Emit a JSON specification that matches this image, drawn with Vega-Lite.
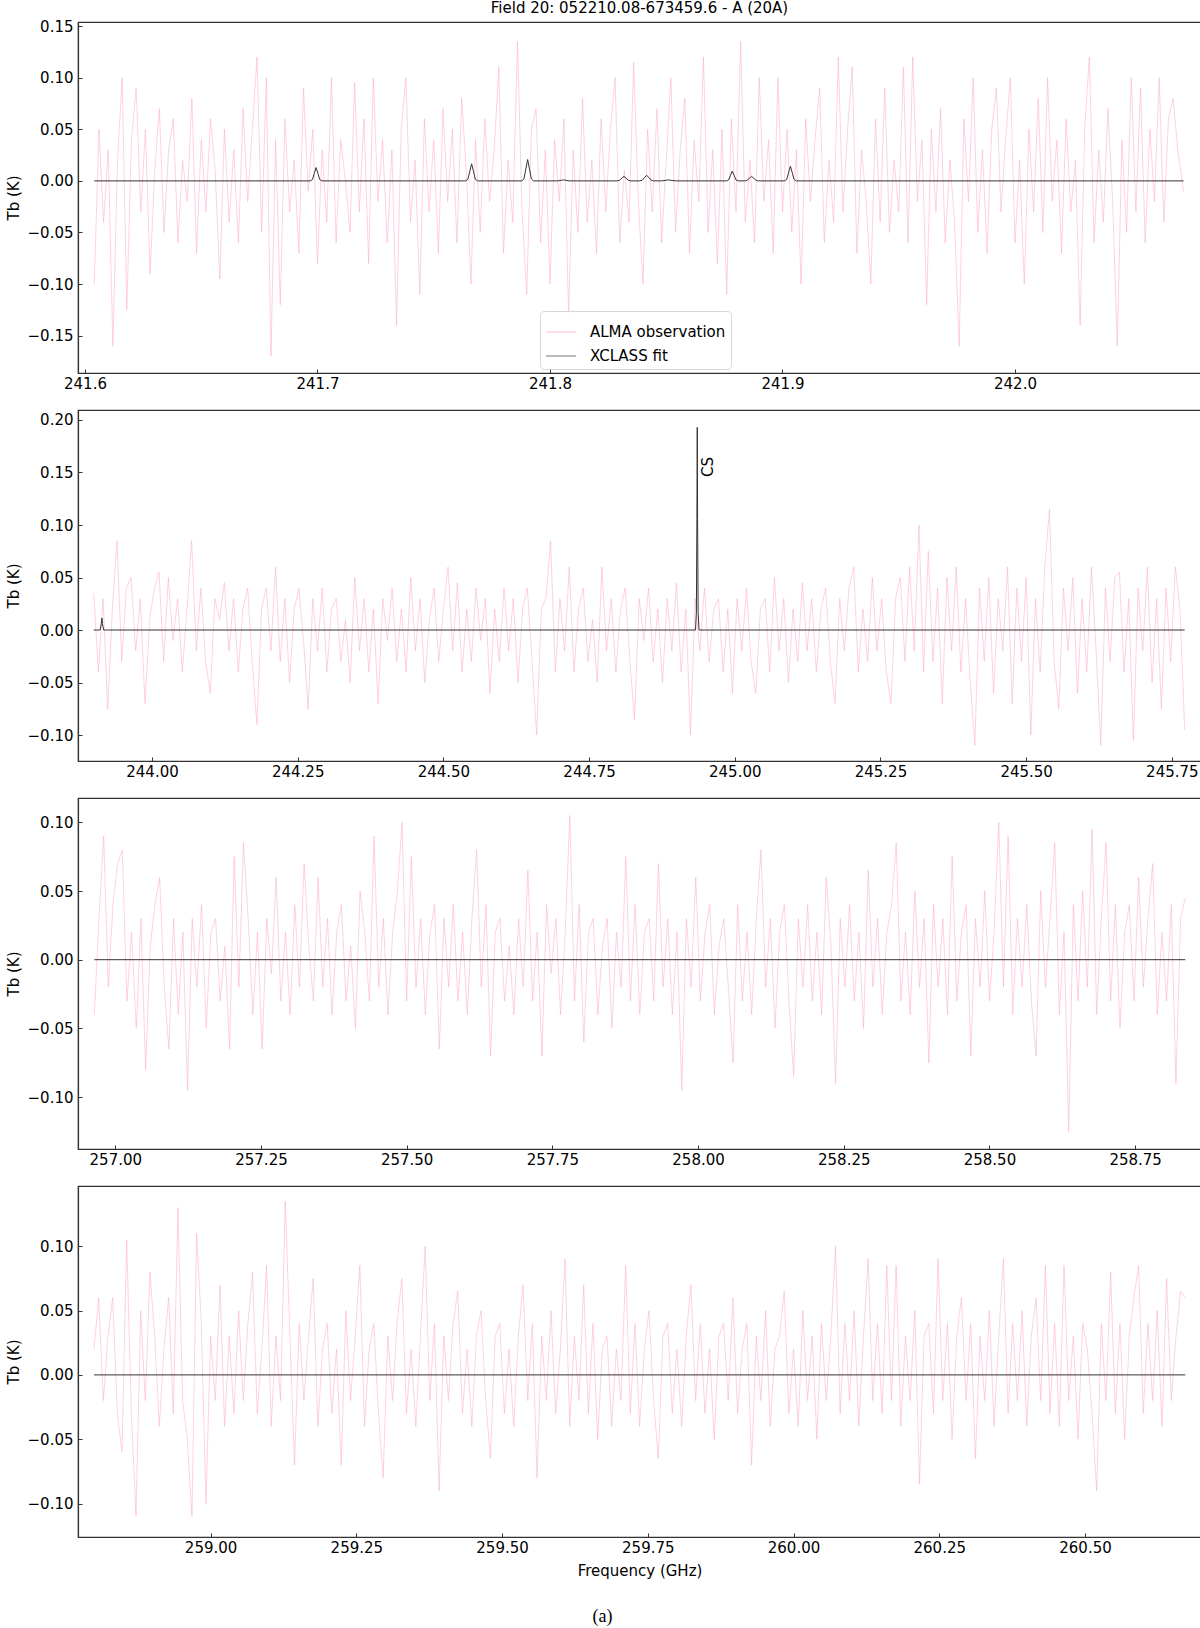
{
"$schema":"https://vega.github.io/schema/vega-lite/v6.json",
"autosize":{"type":"pad"},
"padding":{"left":5,"top":0,"right":0,"bottom":0},
"bounds":"flush",
"spacing":37,
"config":{
"font":"DejaVu Sans",
"view":{"stroke":"#333333","strokeWidth":1.2},
"axis":{"grid":false,"labelFont":"DejaVu Sans","labelFontSize":15,"labelColor":"#000000","titleFont":"DejaVu Sans","titleFontSize":15,"titleFontWeight":"normal","titleColor":"#000000","domainColor":"#333333","domainWidth":1.2,"tickColor":"#333333","tickWidth":1,"tickSize":-4,"labelFlush":false,"labelOverlap":false},
"axisX":{"labelPadding":7,"titlePadding":8},
"axisY":{"labelPadding":9,"titlePadding":6},
"legend":{"labelFont":"DejaVu Sans","labelFontSize":15,"labelColor":"#000000","symbolType":"stroke","symbolSize":900,"symbolStrokeWidth":1.2,"padding":5,"rowPadding":0,"labelOffset":13,"fillColor":"rgba(255,255,255,0.85)","strokeColor":"#d6d6d6","cornerRadius":4},
"title":{"font":"DejaVu Sans","fontSize":15,"fontWeight":"normal","color":"#000000"}
},
"datasets":{
"o1":[
{"f":241.604,"t":-0.1},{"f":241.606,"t":0.05},{"f":241.608,"t":-0.04},{"f":241.61,"t":0.03},{"f":241.612,"t":-0.16},{"f":241.614,"t":0.02},{"f":241.616,"t":0.1},{"f":241.618,"t":-0.125},{"f":241.62,"t":0.04},{"f":241.622,"t":0.09},
{"f":241.624,"t":-0.03},{"f":241.626,"t":0.05},{"f":241.628,"t":-0.09},{"f":241.63,"t":0.01},{"f":241.632,"t":0.07},{"f":241.634,"t":-0.05},{"f":241.636,"t":0.03},{"f":241.638,"t":0.06},{"f":241.64,"t":-0.06},{"f":241.642,"t":0.02},
{"f":241.644,"t":-0.02},{"f":241.646,"t":0.08},{"f":241.648,"t":-0.07},{"f":241.65,"t":0.04},{"f":241.652,"t":-0.03},{"f":241.654,"t":0.06},{"f":241.656,"t":0.01},{"f":241.658,"t":-0.095},{"f":241.66,"t":0.05},{"f":241.662,"t":-0.04},
{"f":241.664,"t":0.03},{"f":241.666,"t":-0.06},{"f":241.668,"t":0.07},{"f":241.67,"t":-0.02},{"f":241.672,"t":0.05},{"f":241.674,"t":0.12},{"f":241.676,"t":-0.05},{"f":241.678,"t":0.1},{"f":241.68,"t":-0.17},{"f":241.682,"t":0.04},
{"f":241.684,"t":-0.12},{"f":241.686,"t":0.06},{"f":241.688,"t":-0.03},{"f":241.69,"t":0.02},{"f":241.692,"t":-0.07},{"f":241.694,"t":0.09},{"f":241.696,"t":-0.01},{"f":241.698,"t":0.05},{"f":241.7,"t":-0.08},{"f":241.702,"t":0.03},
{"f":241.704,"t":-0.04},{"f":241.706,"t":0.1},{"f":241.708,"t":-0.06},{"f":241.71,"t":0.04},{"f":241.712,"t":0},{"f":241.714,"t":-0.05},{"f":241.716,"t":0.095},{"f":241.718,"t":-0.03},{"f":241.72,"t":0.06},{"f":241.722,"t":-0.08},
{"f":241.724,"t":0.1},{"f":241.726,"t":-0.02},{"f":241.728,"t":0.04},{"f":241.73,"t":-0.06},{"f":241.732,"t":0.03},{"f":241.734,"t":-0.14},{"f":241.736,"t":0.05},{"f":241.738,"t":0.1},{"f":241.74,"t":-0.04},{"f":241.742,"t":0.02},
{"f":241.744,"t":-0.11},{"f":241.746,"t":0.06},{"f":241.748,"t":-0.03},{"f":241.75,"t":0.04},{"f":241.752,"t":-0.07},{"f":241.754,"t":0.07},{"f":241.756,"t":-0.02},{"f":241.758,"t":0.05},{"f":241.76,"t":-0.06},{"f":241.762,"t":0.08},
{"f":241.764,"t":0.01},{"f":241.766,"t":-0.1},{"f":241.768,"t":0.04},{"f":241.77,"t":-0.05},{"f":241.772,"t":0.06},{"f":241.774,"t":-0.02},{"f":241.776,"t":0.03},{"f":241.778,"t":0.11},{"f":241.78,"t":-0.07},{"f":241.782,"t":0.02},
{"f":241.784,"t":-0.04},{"f":241.786,"t":0.135},{"f":241.788,"t":-0.03},{"f":241.79,"t":-0.11},{"f":241.792,"t":0.05},{"f":241.794,"t":0.07},{"f":241.796,"t":-0.06},{"f":241.798,"t":0.03},{"f":241.8,"t":-0.1},{"f":241.802,"t":0.04},
{"f":241.804,"t":-0.02},{"f":241.806,"t":0.06},{"f":241.808,"t":-0.13},{"f":241.81,"t":0.03},{"f":241.812,"t":-0.05},{"f":241.814,"t":0.08},{"f":241.816,"t":-0.04},{"f":241.818,"t":0.02},{"f":241.82,"t":-0.07},{"f":241.822,"t":0.06},
{"f":241.824,"t":-0.03},{"f":241.826,"t":0.05},{"f":241.828,"t":0.1},{"f":241.83,"t":-0.06},{"f":241.832,"t":0.01},{"f":241.834,"t":-0.04},{"f":241.836,"t":0.115},{"f":241.838,"t":-0.02},{"f":241.84,"t":-0.1},{"f":241.842,"t":0.05},
{"f":241.844,"t":-0.03},{"f":241.846,"t":0.07},{"f":241.848,"t":-0.06},{"f":241.85,"t":0.02},{"f":241.852,"t":0.1},{"f":241.854,"t":-0.05},{"f":241.856,"t":0.03},{"f":241.858,"t":0.08},{"f":241.86,"t":-0.07},{"f":241.862,"t":0.04},
{"f":241.864,"t":-0.02},{"f":241.866,"t":0.12},{"f":241.868,"t":-0.05},{"f":241.87,"t":0.03},{"f":241.872,"t":-0.08},{"f":241.874,"t":0.05},{"f":241.876,"t":-0.11},{"f":241.878,"t":0.06},{"f":241.88,"t":-0.03},{"f":241.882,"t":0.135},
{"f":241.884,"t":-0.04},{"f":241.886,"t":0.02},{"f":241.888,"t":-0.06},{"f":241.89,"t":0.1},{"f":241.892,"t":-0.02},{"f":241.894,"t":0.04},{"f":241.896,"t":-0.07},{"f":241.898,"t":0.1},{"f":241.9,"t":-0.03},{"f":241.902,"t":0.05},
{"f":241.904,"t":-0.05},{"f":241.906,"t":0.03},{"f":241.908,"t":-0.1},{"f":241.91,"t":0.06},{"f":241.912,"t":-0.02},{"f":241.914,"t":0.04},{"f":241.916,"t":0.09},{"f":241.918,"t":-0.06},{"f":241.92,"t":0.02},{"f":241.922,"t":-0.04},
{"f":241.924,"t":0.12},{"f":241.926,"t":-0.03},{"f":241.928,"t":0.05},{"f":241.93,"t":0.11},{"f":241.932,"t":-0.07},{"f":241.934,"t":0.03},{"f":241.936,"t":-0.02},{"f":241.938,"t":-0.1},{"f":241.94,"t":0.06},{"f":241.942,"t":-0.04},
{"f":241.944,"t":0.09},{"f":241.946,"t":-0.05},{"f":241.948,"t":0.02},{"f":241.95,"t":-0.03},{"f":241.952,"t":0.11},{"f":241.954,"t":-0.06},{"f":241.956,"t":0.12},{"f":241.958,"t":-0.02},{"f":241.96,"t":0.04},{"f":241.962,"t":-0.12},
{"f":241.964,"t":0.05},{"f":241.966,"t":-0.03},{"f":241.968,"t":0.07},{"f":241.97,"t":-0.06},{"f":241.972,"t":0.02},{"f":241.974,"t":-0.04},{"f":241.976,"t":-0.16},{"f":241.978,"t":0.06},{"f":241.98,"t":-0.02},{"f":241.982,"t":0.1},
{"f":241.984,"t":-0.05},{"f":241.986,"t":0.03},{"f":241.988,"t":-0.07},{"f":241.99,"t":0.05},{"f":241.992,"t":0.09},{"f":241.994,"t":-0.03},{"f":241.996,"t":0.04},{"f":241.998,"t":0.1},{"f":242,"t":-0.06},{"f":242.002,"t":0.02},
{"f":242.004,"t":-0.1},{"f":242.006,"t":0.05},{"f":242.008,"t":-0.03},{"f":242.01,"t":0.08},{"f":242.012,"t":-0.05},{"f":242.014,"t":0.1},{"f":242.016,"t":-0.02},{"f":242.018,"t":0.04},{"f":242.02,"t":-0.07},{"f":242.022,"t":0.06},
{"f":242.024,"t":-0.03},{"f":242.026,"t":0.02},{"f":242.028,"t":-0.14},{"f":242.03,"t":0.05},{"f":242.032,"t":0.12},{"f":242.034,"t":-0.06},{"f":242.036,"t":0.03},{"f":242.038,"t":-0.04},{"f":242.04,"t":0.07},{"f":242.042,"t":-0.02},
{"f":242.044,"t":-0.16},{"f":242.046,"t":0.04},{"f":242.048,"t":-0.05},{"f":242.05,"t":0.1},{"f":242.052,"t":-0.03},{"f":242.054,"t":0.09},{"f":242.056,"t":-0.06},{"f":242.058,"t":0.05},{"f":242.06,"t":-0.02},{"f":242.062,"t":0.1},
{"f":242.064,"t":-0.04},{"f":242.066,"t":0.06},{"f":242.068,"t":0.08},{"f":242.07,"t":0.03},{"f":242.0725,"t":-0.01}
],
"fit1":[
{"f":241.604,"t":0},
{"f":241.6969,"t":0},{"f":241.6978,"t":0.0012},{"f":241.6986,"t":0.0071},{"f":241.6994,"t":0.0129},{"f":241.7002,"t":0.0071},{"f":241.701,"t":0.0012},{"f":241.7019,"t":0},
{"f":241.7638,"t":0},{"f":241.7647,"t":0.0015},{"f":241.7655,"t":0.0091},{"f":241.7663,"t":0.0166},{"f":241.7671,"t":0.0091},{"f":241.7679,"t":0.0015},{"f":241.7688,"t":0},
{"f":241.7879,"t":0},{"f":241.7888,"t":0.0019},{"f":241.7896,"t":0.0114},{"f":241.7904,"t":0.0207},{"f":241.7912,"t":0.0114},{"f":241.792,"t":0.0019},{"f":241.7929,"t":0},
{"f":241.8033,"t":0},{"f":241.805,"t":0.0006},{"f":241.8058,"t":0.001},{"f":241.8066,"t":0.0006},{"f":241.8083,"t":0},
{"f":241.8288,"t":0},{"f":241.8298,"t":0.0004},{"f":241.8308,"t":0.0024},{"f":241.8318,"t":0.0044},{"f":241.8328,"t":0.0024},{"f":241.8338,"t":0.0004},{"f":241.8348,"t":0},
{"f":241.8386,"t":0},{"f":241.8396,"t":0.0005},{"f":241.8406,"t":0.003},{"f":241.8416,"t":0.0054},{"f":241.8426,"t":0.003},{"f":241.8436,"t":0.0005},{"f":241.8446,"t":0},
{"f":241.848,"t":0},{"f":241.85,"t":0.0006},{"f":241.851,"t":0.001},{"f":241.852,"t":0.0006},{"f":241.854,"t":0},
{"f":241.8759,"t":0},{"f":241.8768,"t":0.0009},{"f":241.8776,"t":0.0052},{"f":241.8784,"t":0.0095},{"f":241.8792,"t":0.0052},{"f":241.88,"t":0.0009},{"f":241.8809,"t":0},
{"f":241.8837,"t":0},{"f":241.8847,"t":0.0004},{"f":241.8857,"t":0.0024},{"f":241.8867,"t":0.0044},{"f":241.8877,"t":0.0024},{"f":241.8887,"t":0.0004},{"f":241.8897,"t":0},
{"f":241.9009,"t":0},{"f":241.9018,"t":0.0013},{"f":241.9026,"t":0.0078},{"f":241.9034,"t":0.0142},{"f":241.9042,"t":0.0078},{"f":241.905,"t":0.0013},{"f":241.9059,"t":0},
{"f":242.0725,"t":0}
],
"o2":[
{"f":243.9,"t":0.035},{"f":243.908,"t":-0.04},{"f":243.916,"t":0.03},{"f":243.924,"t":-0.075},{"f":243.932,"t":0.02},{"f":243.94,"t":0.085},{"f":243.948,"t":-0.03},{"f":243.956,"t":0.04},{"f":243.964,"t":0.05},{"f":243.972,"t":-0.02},
{"f":243.98,"t":0.03},{"f":243.988,"t":-0.07},{"f":243.996,"t":0.01},{"f":244.004,"t":0.04},{"f":244.012,"t":0.055},{"f":244.02,"t":-0.03},{"f":244.028,"t":0.05},{"f":244.036,"t":-0.01},{"f":244.044,"t":0.03},{"f":244.052,"t":-0.04},
{"f":244.06,"t":0.02},{"f":244.068,"t":0.085},{"f":244.076,"t":-0.02},{"f":244.084,"t":0.04},{"f":244.092,"t":-0.03},{"f":244.1,"t":-0.06},{"f":244.108,"t":0.03},{"f":244.116,"t":0.01},{"f":244.124,"t":0.045},{"f":244.132,"t":-0.02},
{"f":244.14,"t":0.03},{"f":244.148,"t":-0.04},{"f":244.156,"t":0.02},{"f":244.164,"t":0.04},{"f":244.172,"t":-0.03},{"f":244.18,"t":-0.09},{"f":244.188,"t":0.02},{"f":244.196,"t":0.04},{"f":244.204,"t":-0.02},{"f":244.212,"t":0.06},
{"f":244.22,"t":-0.03},{"f":244.228,"t":0.03},{"f":244.236,"t":-0.05},{"f":244.244,"t":0.02},{"f":244.252,"t":0.04},{"f":244.26,"t":-0.01},{"f":244.268,"t":-0.075},{"f":244.276,"t":0.03},{"f":244.284,"t":-0.02},{"f":244.292,"t":0.04},
{"f":244.3,"t":-0.04},{"f":244.308,"t":0.02},{"f":244.316,"t":0.03},{"f":244.324,"t":-0.03},{"f":244.332,"t":0.01},{"f":244.34,"t":-0.05},{"f":244.348,"t":0.05},{"f":244.356,"t":-0.02},{"f":244.364,"t":0.03},{"f":244.372,"t":-0.04},
{"f":244.38,"t":0.02},{"f":244.388,"t":-0.07},{"f":244.396,"t":0.03},{"f":244.404,"t":-0.01},{"f":244.412,"t":0.04},{"f":244.42,"t":-0.03},{"f":244.428,"t":0.02},{"f":244.436,"t":-0.04},{"f":244.444,"t":0.05},{"f":244.452,"t":-0.02},
{"f":244.46,"t":0.03},{"f":244.468,"t":-0.05},{"f":244.476,"t":0.01},{"f":244.484,"t":0.04},{"f":244.492,"t":-0.03},{"f":244.5,"t":0.02},{"f":244.508,"t":0.06},{"f":244.516,"t":-0.02},{"f":244.524,"t":0.045},{"f":244.532,"t":-0.04},
{"f":244.54,"t":0.02},{"f":244.548,"t":-0.03},{"f":244.556,"t":0.04},{"f":244.564,"t":-0.01},{"f":244.572,"t":0.03},{"f":244.58,"t":-0.06},{"f":244.588,"t":0.02},{"f":244.596,"t":-0.03},{"f":244.604,"t":0.04},{"f":244.612,"t":-0.02},
{"f":244.62,"t":0.03},{"f":244.628,"t":-0.05},{"f":244.636,"t":0.02},{"f":244.644,"t":0.04},{"f":244.652,"t":-0.03},{"f":244.66,"t":-0.1},{"f":244.668,"t":0.02},{"f":244.676,"t":0.03},{"f":244.684,"t":0.085},{"f":244.692,"t":-0.04},
{"f":244.7,"t":0.03},{"f":244.708,"t":-0.02},{"f":244.716,"t":0.06},{"f":244.724,"t":-0.04},{"f":244.732,"t":0.02},{"f":244.74,"t":0.04},{"f":244.748,"t":-0.03},{"f":244.756,"t":0.01},{"f":244.764,"t":-0.05},{"f":244.772,"t":0.06},
{"f":244.78,"t":-0.02},{"f":244.788,"t":0.03},{"f":244.796,"t":-0.04},{"f":244.804,"t":0.02},{"f":244.812,"t":0.04},{"f":244.82,"t":-0.03},{"f":244.828,"t":-0.085},{"f":244.836,"t":0.03},{"f":244.844,"t":-0.01},{"f":244.852,"t":0.04},
{"f":244.86,"t":-0.03},{"f":244.868,"t":0.02},{"f":244.876,"t":-0.05},{"f":244.884,"t":0.03},{"f":244.892,"t":-0.02},{"f":244.9,"t":0.045},{"f":244.908,"t":-0.04},{"f":244.916,"t":0.02},{"f":244.924,"t":-0.1},{"f":244.932,"t":0.03},
{"f":244.94,"t":-0.02},{"f":244.948,"t":0.04},{"f":244.956,"t":-0.03},{"f":244.964,"t":0.02},{"f":244.972,"t":0.03},{"f":244.98,"t":-0.04},{"f":244.988,"t":0.02},{"f":244.996,"t":-0.06},{"f":245.004,"t":0.03},{"f":245.012,"t":-0.02},
{"f":245.02,"t":0.04},{"f":245.028,"t":-0.03},{"f":245.036,"t":-0.06},{"f":245.044,"t":0.02},{"f":245.052,"t":0.03},{"f":245.06,"t":-0.04},{"f":245.068,"t":0.05},{"f":245.076,"t":-0.02},{"f":245.084,"t":0.03},{"f":245.092,"t":-0.05},
{"f":245.1,"t":0.02},{"f":245.108,"t":-0.03},{"f":245.116,"t":0.045},{"f":245.124,"t":-0.02},{"f":245.132,"t":0.03},{"f":245.14,"t":-0.04},{"f":245.148,"t":0.02},{"f":245.156,"t":0.04},{"f":245.164,"t":-0.03},{"f":245.172,"t":-0.07},
{"f":245.18,"t":0.03},{"f":245.188,"t":-0.02},{"f":245.196,"t":0.04},{"f":245.204,"t":0.06},{"f":245.212,"t":-0.04},{"f":245.22,"t":0.02},{"f":245.228,"t":-0.03},{"f":245.236,"t":0.05},{"f":245.244,"t":-0.02},{"f":245.252,"t":0.03},
{"f":245.26,"t":-0.04},{"f":245.268,"t":-0.07},{"f":245.276,"t":0.03},{"f":245.284,"t":0.05},{"f":245.292,"t":-0.03},{"f":245.3,"t":0.06},{"f":245.308,"t":-0.02},{"f":245.316,"t":0.1},{"f":245.324,"t":-0.04},{"f":245.332,"t":0.075},
{"f":245.34,"t":-0.03},{"f":245.348,"t":0.04},{"f":245.356,"t":-0.07},{"f":245.364,"t":0.05},{"f":245.372,"t":-0.02},{"f":245.38,"t":0.06},{"f":245.388,"t":-0.04},{"f":245.396,"t":0.03},{"f":245.404,"t":-0.05},{"f":245.412,"t":-0.11},
{"f":245.42,"t":0.04},{"f":245.428,"t":-0.03},{"f":245.436,"t":0.05},{"f":245.444,"t":-0.06},{"f":245.452,"t":0.03},{"f":245.46,"t":-0.02},{"f":245.468,"t":0.06},{"f":245.476,"t":-0.07},{"f":245.484,"t":0.04},{"f":245.492,"t":-0.03},
{"f":245.5,"t":0.05},{"f":245.508,"t":-0.1},{"f":245.516,"t":0.03},{"f":245.524,"t":-0.04},{"f":245.532,"t":0.06},{"f":245.54,"t":0.115},{"f":245.548,"t":-0.03},{"f":245.556,"t":-0.075},{"f":245.564,"t":0.04},{"f":245.572,"t":-0.02},
{"f":245.58,"t":0.05},{"f":245.588,"t":-0.06},{"f":245.596,"t":0.03},{"f":245.604,"t":-0.04},{"f":245.612,"t":0.06},{"f":245.62,"t":-0.02},{"f":245.628,"t":-0.11},{"f":245.636,"t":0.04},{"f":245.644,"t":-0.03},{"f":245.652,"t":0.05},
{"f":245.66,"t":0.055},{"f":245.668,"t":-0.04},{"f":245.676,"t":0.03},{"f":245.684,"t":-0.105},{"f":245.692,"t":0.04},{"f":245.7,"t":-0.02},{"f":245.708,"t":0.06},{"f":245.716,"t":-0.05},{"f":245.724,"t":0.03},{"f":245.732,"t":-0.075},
{"f":245.74,"t":0.04},{"f":245.748,"t":-0.03},{"f":245.756,"t":0.06},{"f":245.764,"t":0.02},{"f":245.772,"t":-0.095}
],
"fit2":[
{"f":243.9,"t":0},
{"f":243.911,"t":0},{"f":243.913,"t":0.006},{"f":243.914,"t":0.0115},{"f":243.915,"t":0.006},{"f":243.917,"t":0},
{"f":244.9326,"t":0},{"f":244.9341,"t":0.017},{"f":244.935,"t":0.105},{"f":244.9356,"t":0.193},{"f":244.9362,"t":0.105},{"f":244.9371,"t":0.017},{"f":244.9386,"t":0},
{"f":245.772,"t":0}
],
"cs":[{"f":244.954,"t":0.1553,"l":"CS"}],
"o3":[
{"f":256.964,"t":-0.04},{"f":256.972,"t":0.03},{"f":256.98,"t":0.09},{"f":256.988,"t":-0.02},{"f":256.996,"t":0.04},{"f":257.004,"t":0.07},{"f":257.012,"t":0.08},{"f":257.02,"t":-0.03},{"f":257.028,"t":0.02},{"f":257.036,"t":-0.05},
{"f":257.044,"t":0.03},{"f":257.052,"t":-0.08},{"f":257.06,"t":0.01},{"f":257.068,"t":0.04},{"f":257.076,"t":0.06},{"f":257.084,"t":-0.02},{"f":257.092,"t":-0.065},{"f":257.1,"t":0.03},{"f":257.108,"t":-0.04},{"f":257.116,"t":0.02},
{"f":257.124,"t":-0.095},{"f":257.132,"t":0.03},{"f":257.14,"t":-0.02},{"f":257.148,"t":0.04},{"f":257.156,"t":-0.05},{"f":257.164,"t":0.02},{"f":257.172,"t":0.03},{"f":257.18,"t":-0.03},{"f":257.188,"t":0.01},{"f":257.196,"t":-0.065},
{"f":257.204,"t":0.075},{"f":257.212,"t":-0.02},{"f":257.22,"t":0.085},{"f":257.228,"t":0.03},{"f":257.236,"t":-0.04},{"f":257.244,"t":0.02},{"f":257.252,"t":-0.065},{"f":257.26,"t":0.03},{"f":257.268,"t":-0.01},{"f":257.276,"t":0.06},
{"f":257.284,"t":-0.03},{"f":257.292,"t":0.02},{"f":257.3,"t":-0.04},{"f":257.308,"t":0.04},{"f":257.316,"t":-0.02},{"f":257.324,"t":0.07},{"f":257.332,"t":0.01},{"f":257.34,"t":-0.03},{"f":257.348,"t":0.06},{"f":257.356,"t":-0.02},
{"f":257.364,"t":0.03},{"f":257.372,"t":-0.04},{"f":257.38,"t":0.02},{"f":257.388,"t":0.04},{"f":257.396,"t":-0.03},{"f":257.404,"t":0.01},{"f":257.412,"t":-0.05},{"f":257.42,"t":0.05},{"f":257.428,"t":0.02},{"f":257.436,"t":-0.03},
{"f":257.444,"t":0.09},{"f":257.452,"t":-0.02},{"f":257.46,"t":0.03},{"f":257.468,"t":-0.04},{"f":257.476,"t":0.02},{"f":257.484,"t":0.05},{"f":257.492,"t":0.1},{"f":257.5,"t":-0.03},{"f":257.508,"t":0.075},{"f":257.516,"t":-0.02},
{"f":257.524,"t":0.03},{"f":257.532,"t":-0.04},{"f":257.54,"t":0.02},{"f":257.548,"t":0.04},{"f":257.556,"t":-0.065},{"f":257.564,"t":0.03},{"f":257.572,"t":-0.02},{"f":257.58,"t":0.04},{"f":257.588,"t":-0.03},{"f":257.596,"t":0.02},
{"f":257.604,"t":-0.04},{"f":257.612,"t":0.03},{"f":257.62,"t":0.08},{"f":257.628,"t":-0.02},{"f":257.636,"t":0.04},{"f":257.644,"t":-0.07},{"f":257.652,"t":0.02},{"f":257.66,"t":0.03},{"f":257.668,"t":-0.03},{"f":257.676,"t":0.01},
{"f":257.684,"t":-0.04},{"f":257.692,"t":0.03},{"f":257.7,"t":-0.02},{"f":257.708,"t":0.065},{"f":257.716,"t":-0.03},{"f":257.724,"t":0.02},{"f":257.732,"t":-0.07},{"f":257.74,"t":0.04},{"f":257.748,"t":-0.01},{"f":257.756,"t":0.03},
{"f":257.764,"t":-0.04},{"f":257.772,"t":0.02},{"f":257.78,"t":0.105},{"f":257.788,"t":-0.03},{"f":257.796,"t":0.04},{"f":257.804,"t":-0.06},{"f":257.812,"t":0.02},{"f":257.82,"t":0.03},{"f":257.828,"t":-0.04},{"f":257.836,"t":0.01},
{"f":257.844,"t":0.03},{"f":257.852,"t":-0.05},{"f":257.86,"t":0.02},{"f":257.868,"t":-0.02},{"f":257.876,"t":0.075},{"f":257.884,"t":-0.03},{"f":257.892,"t":0.04},{"f":257.9,"t":-0.04},{"f":257.908,"t":0.02},{"f":257.916,"t":0.03},
{"f":257.924,"t":-0.03},{"f":257.932,"t":0.07},{"f":257.94,"t":-0.02},{"f":257.948,"t":0.03},{"f":257.956,"t":-0.04},{"f":257.964,"t":0.02},{"f":257.972,"t":-0.095},{"f":257.98,"t":0.03},{"f":257.988,"t":-0.02},{"f":257.996,"t":0.06},
{"f":258.004,"t":-0.03},{"f":258.012,"t":0.02},{"f":258.02,"t":0.04},{"f":258.028,"t":-0.04},{"f":258.036,"t":0.01},{"f":258.044,"t":0.03},{"f":258.052,"t":-0.02},{"f":258.06,"t":-0.075},{"f":258.068,"t":0.04},{"f":258.076,"t":-0.03},
{"f":258.084,"t":0.02},{"f":258.092,"t":-0.04},{"f":258.1,"t":0.03},{"f":258.108,"t":0.08},{"f":258.116,"t":-0.02},{"f":258.124,"t":0.03},{"f":258.132,"t":-0.05},{"f":258.14,"t":0.02},{"f":258.148,"t":0.04},{"f":258.156,"t":-0.03},
{"f":258.164,"t":-0.085},{"f":258.172,"t":0.03},{"f":258.18,"t":-0.02},{"f":258.188,"t":0.04},{"f":258.196,"t":-0.03},{"f":258.204,"t":0.02},{"f":258.212,"t":-0.04},{"f":258.22,"t":0.06},{"f":258.228,"t":0.01},{"f":258.236,"t":-0.09},
{"f":258.244,"t":0.03},{"f":258.252,"t":-0.02},{"f":258.26,"t":0.04},{"f":258.268,"t":-0.03},{"f":258.276,"t":0.02},{"f":258.284,"t":-0.05},{"f":258.292,"t":0.065},{"f":258.3,"t":-0.02},{"f":258.308,"t":0.03},{"f":258.316,"t":-0.04},
{"f":258.324,"t":0.02},{"f":258.332,"t":0.04},{"f":258.34,"t":0.085},{"f":258.348,"t":-0.03},{"f":258.356,"t":0.02},{"f":258.364,"t":-0.04},{"f":258.372,"t":0.05},{"f":258.38,"t":-0.02},{"f":258.388,"t":0.03},{"f":258.396,"t":-0.075},
{"f":258.404,"t":0.04},{"f":258.412,"t":-0.02},{"f":258.42,"t":0.03},{"f":258.428,"t":-0.04},{"f":258.436,"t":0.075},{"f":258.444,"t":-0.03},{"f":258.452,"t":0.02},{"f":258.46,"t":0.04},{"f":258.468,"t":-0.07},{"f":258.476,"t":0.03},
{"f":258.484,"t":-0.02},{"f":258.492,"t":0.05},{"f":258.5,"t":-0.03},{"f":258.508,"t":0.02},{"f":258.516,"t":0.1},{"f":258.524,"t":-0.02},{"f":258.532,"t":0.09},{"f":258.54,"t":-0.04},{"f":258.548,"t":0.03},{"f":258.556,"t":-0.02},
{"f":258.564,"t":0.04},{"f":258.572,"t":-0.03},{"f":258.58,"t":-0.07},{"f":258.588,"t":0.05},{"f":258.596,"t":-0.02},{"f":258.604,"t":0.03},{"f":258.612,"t":0.085},{"f":258.62,"t":-0.04},{"f":258.628,"t":0.02},{"f":258.636,"t":-0.125},
{"f":258.644,"t":0.04},{"f":258.652,"t":-0.03},{"f":258.66,"t":0.05},{"f":258.668,"t":-0.02},{"f":258.676,"t":0.095},{"f":258.684,"t":-0.04},{"f":258.692,"t":0.03},{"f":258.7,"t":0.085},{"f":258.708,"t":-0.03},{"f":258.716,"t":0.04},
{"f":258.724,"t":-0.05},{"f":258.732,"t":0.02},{"f":258.74,"t":0.04},{"f":258.748,"t":-0.03},{"f":258.756,"t":0.06},{"f":258.764,"t":-0.02},{"f":258.772,"t":0.03},{"f":258.78,"t":0.07},{"f":258.788,"t":-0.04},{"f":258.796,"t":0.02},
{"f":258.804,"t":-0.03},{"f":258.812,"t":0.04},{"f":258.82,"t":-0.09},{"f":258.828,"t":0.03},{"f":258.836,"t":0.045}
],
"fit3":[{"f":256.964,"t":0},{"f":258.836,"t":0}],
"o4":[
{"f":258.8,"t":0.02},{"f":258.808,"t":0.06},{"f":258.816,"t":-0.02},{"f":258.824,"t":0.03},{"f":258.832,"t":0.06},{"f":258.84,"t":-0.03},{"f":258.848,"t":-0.06},{"f":258.856,"t":0.105},{"f":258.864,"t":-0.03},{"f":258.872,"t":-0.11},
{"f":258.88,"t":0.05},{"f":258.888,"t":-0.02},{"f":258.896,"t":0.08},{"f":258.904,"t":0.03},{"f":258.912,"t":-0.04},{"f":258.92,"t":0.02},{"f":258.928,"t":0.06},{"f":258.936,"t":-0.03},{"f":258.944,"t":0.13},{"f":258.952,"t":-0.02},
{"f":258.96,"t":-0.05},{"f":258.968,"t":-0.11},{"f":258.976,"t":0.11},{"f":258.984,"t":0.04},{"f":258.992,"t":-0.1},{"f":259,"t":0.03},{"f":259.008,"t":-0.02},{"f":259.016,"t":0.07},{"f":259.024,"t":-0.04},{"f":259.032,"t":0.03},
{"f":259.04,"t":-0.03},{"f":259.048,"t":0.05},{"f":259.056,"t":-0.02},{"f":259.064,"t":0.04},{"f":259.072,"t":0.08},{"f":259.08,"t":-0.03},{"f":259.088,"t":0.02},{"f":259.096,"t":0.085},{"f":259.104,"t":-0.04},{"f":259.112,"t":0.03},
{"f":259.12,"t":-0.02},{"f":259.128,"t":0.135},{"f":259.136,"t":0.03},{"f":259.144,"t":-0.07},{"f":259.152,"t":0.04},{"f":259.16,"t":-0.02},{"f":259.168,"t":0.03},{"f":259.176,"t":0.075},{"f":259.184,"t":-0.04},{"f":259.192,"t":0.02},
{"f":259.2,"t":0.04},{"f":259.208,"t":-0.03},{"f":259.216,"t":0.02},{"f":259.224,"t":-0.07},{"f":259.232,"t":0.05},{"f":259.24,"t":-0.02},{"f":259.248,"t":0.03},{"f":259.256,"t":0.085},{"f":259.264,"t":-0.04},{"f":259.272,"t":0.02},
{"f":259.28,"t":0.04},{"f":259.288,"t":-0.03},{"f":259.296,"t":-0.08},{"f":259.304,"t":0.03},{"f":259.312,"t":-0.02},{"f":259.32,"t":0.04},{"f":259.328,"t":0.075},{"f":259.336,"t":-0.03},{"f":259.344,"t":0.02},{"f":259.352,"t":-0.04},
{"f":259.36,"t":0.03},{"f":259.368,"t":0.1},{"f":259.376,"t":-0.02},{"f":259.384,"t":0.04},{"f":259.392,"t":-0.09},{"f":259.4,"t":0.03},{"f":259.408,"t":-0.02},{"f":259.416,"t":0.04},{"f":259.424,"t":0.065},{"f":259.432,"t":-0.03},
{"f":259.44,"t":0.02},{"f":259.448,"t":-0.04},{"f":259.456,"t":0.03},{"f":259.464,"t":0.05},{"f":259.472,"t":-0.02},{"f":259.48,"t":-0.065},{"f":259.488,"t":0.03},{"f":259.496,"t":0.04},{"f":259.504,"t":-0.03},{"f":259.512,"t":0.02},
{"f":259.52,"t":-0.04},{"f":259.528,"t":0.03},{"f":259.536,"t":0.07},{"f":259.544,"t":-0.02},{"f":259.552,"t":0.04},{"f":259.56,"t":-0.08},{"f":259.568,"t":0.03},{"f":259.576,"t":-0.02},{"f":259.584,"t":0.05},{"f":259.592,"t":-0.03},
{"f":259.6,"t":0.02},{"f":259.608,"t":0.09},{"f":259.616,"t":-0.04},{"f":259.624,"t":0.03},{"f":259.632,"t":-0.02},{"f":259.64,"t":0.07},{"f":259.648,"t":-0.03},{"f":259.656,"t":0.04},{"f":259.664,"t":-0.05},{"f":259.672,"t":0.02},
{"f":259.68,"t":0.03},{"f":259.688,"t":-0.04},{"f":259.696,"t":0.02},{"f":259.704,"t":-0.02},{"f":259.712,"t":0.085},{"f":259.72,"t":-0.03},{"f":259.728,"t":0.04},{"f":259.736,"t":-0.04},{"f":259.744,"t":0.02},{"f":259.752,"t":0.05},
{"f":259.76,"t":-0.02},{"f":259.768,"t":-0.065},{"f":259.776,"t":0.03},{"f":259.784,"t":0.04},{"f":259.792,"t":-0.03},{"f":259.8,"t":0.02},{"f":259.808,"t":-0.04},{"f":259.816,"t":0.03},{"f":259.824,"t":0.07},{"f":259.832,"t":-0.02},
{"f":259.84,"t":0.04},{"f":259.848,"t":-0.03},{"f":259.856,"t":0.02},{"f":259.864,"t":-0.05},{"f":259.872,"t":0.03},{"f":259.88,"t":0.04},{"f":259.888,"t":-0.02},{"f":259.896,"t":0.06},{"f":259.904,"t":-0.03},{"f":259.912,"t":0.02},
{"f":259.92,"t":0.04},{"f":259.928,"t":-0.07},{"f":259.936,"t":0.03},{"f":259.944,"t":-0.02},{"f":259.952,"t":0.05},{"f":259.96,"t":-0.04},{"f":259.968,"t":0.02},{"f":259.976,"t":0.03},{"f":259.984,"t":0.065},{"f":259.992,"t":-0.03},
{"f":260,"t":0.02},{"f":260.008,"t":-0.04},{"f":260.016,"t":0.05},{"f":260.024,"t":-0.02},{"f":260.032,"t":0.03},{"f":260.04,"t":-0.05},{"f":260.048,"t":0.04},{"f":260.056,"t":-0.02},{"f":260.064,"t":0.03},{"f":260.072,"t":0.1},
{"f":260.08,"t":-0.03},{"f":260.088,"t":0.04},{"f":260.096,"t":-0.02},{"f":260.104,"t":0.05},{"f":260.112,"t":-0.04},{"f":260.12,"t":0.03},{"f":260.128,"t":0.09},{"f":260.136,"t":-0.02},{"f":260.144,"t":0.04},{"f":260.152,"t":-0.03},
{"f":260.16,"t":0.085},{"f":260.168,"t":-0.02},{"f":260.176,"t":0.085},{"f":260.184,"t":-0.04},{"f":260.192,"t":0.03},{"f":260.2,"t":-0.02},{"f":260.208,"t":0.05},{"f":260.216,"t":-0.085},{"f":260.224,"t":0.03},{"f":260.232,"t":0.04},
{"f":260.24,"t":-0.03},{"f":260.248,"t":0.09},{"f":260.256,"t":-0.02},{"f":260.264,"t":0.04},{"f":260.272,"t":-0.05},{"f":260.28,"t":0.03},{"f":260.288,"t":0.06},{"f":260.296,"t":-0.02},{"f":260.304,"t":0.04},{"f":260.312,"t":-0.065},
{"f":260.32,"t":0.03},{"f":260.328,"t":-0.02},{"f":260.336,"t":0.05},{"f":260.344,"t":-0.04},{"f":260.352,"t":0.03},{"f":260.36,"t":0.09},{"f":260.368,"t":-0.03},{"f":260.376,"t":0.04},{"f":260.384,"t":-0.02},{"f":260.392,"t":0.05},
{"f":260.4,"t":-0.04},{"f":260.408,"t":0.03},{"f":260.416,"t":0.06},{"f":260.424,"t":-0.02},{"f":260.432,"t":0.085},{"f":260.44,"t":-0.03},{"f":260.448,"t":0.04},{"f":260.456,"t":-0.04},{"f":260.464,"t":0.085},{"f":260.472,"t":-0.02},
{"f":260.48,"t":0.03},{"f":260.488,"t":-0.05},{"f":260.496,"t":0.04},{"f":260.504,"t":0.02},{"f":260.512,"t":-0.03},{"f":260.52,"t":-0.09},{"f":260.528,"t":0.04},{"f":260.536,"t":-0.02},{"f":260.544,"t":0.08},{"f":260.552,"t":-0.03},
{"f":260.56,"t":0.04},{"f":260.568,"t":-0.05},{"f":260.576,"t":0.03},{"f":260.584,"t":0.06},{"f":260.592,"t":0.085},{"f":260.6,"t":-0.03},{"f":260.608,"t":0.04},{"f":260.616,"t":-0.02},{"f":260.624,"t":0.05},{"f":260.632,"t":-0.04},
{"f":260.64,"t":0.075},{"f":260.648,"t":-0.02},{"f":260.656,"t":0.03},{"f":260.664,"t":0.065},{"f":260.672,"t":0.06}
],
"fit4":[{"f":258.8,"t":0},{"f":260.672,"t":0}]
},
"vconcat":[
{"width":1123,"height":351,
"title":{"text":"Field 20: 052210.08-673459.6 - A (20A)","offset":3},
"layer":[
{"data":{"name":"o1"},"mark":{"type":"line","strokeWidth":0.9,"opacity":0.55},
"encoding":{
"x":{"field":"f","type":"quantitative","scale":{"domain":[241.597,242.08],"nice":false,"zero":false},"axis":{"values":[241.6,241.7,241.8,241.9,242.0],"format":".1f","title":null}},
"y":{"field":"t","type":"quantitative","scale":{"domain":[-0.1861,0.1539],"nice":false,"zero":false},"axis":{"values":[-0.15,-0.1,-0.05,0,0.05,0.1,0.15],"format":".2f","title":"Tb (K)"}},
"color":{"datum":"ALMA observation","scale":{"domain":["ALMA observation","XCLASS fit"],"range":["#ff9fcf","#333333"]},"legend":{"orient":"none","legendX":462,"legendY":289,"title":null}}}},
{"data":{"name":"fit1"},"mark":{"type":"line","strokeWidth":1},
"encoding":{"x":{"field":"f","type":"quantitative"},"y":{"field":"t","type":"quantitative"},"color":{"datum":"XCLASS fit"}}}
]},
{"width":1123,"height":351,
"layer":[
{"data":{"name":"o2"},"mark":{"type":"line","strokeWidth":0.9,"opacity":0.55,"color":"#ff9fcf"},
"encoding":{
"x":{"field":"f","type":"quantitative","scale":{"domain":[243.873,245.8],"nice":false,"zero":false},"axis":{"values":[244,244.25,244.5,244.75,245,245.25,245.5,245.75],"format":".2f","title":null}},
"y":{"field":"t","type":"quantitative","scale":{"domain":[-0.1247,0.2095],"nice":false,"zero":false},"axis":{"values":[-0.1,-0.05,0,0.05,0.1,0.15,0.2],"format":".2f","title":"Tb (K)"}}}},
{"data":{"name":"fit2"},"mark":{"type":"line","strokeWidth":1,"color":"#333333"},
"encoding":{"x":{"field":"f","type":"quantitative"},"y":{"field":"t","type":"quantitative"}}},
{"data":{"name":"cs"},"mark":{"type":"text","angle":270,"fontSize":15,"font":"DejaVu Sans","color":"#000000","align":"center","baseline":"middle"},
"encoding":{"x":{"field":"f","type":"quantitative"},"y":{"field":"t","type":"quantitative"},"text":{"field":"l"}}}
]},
{"width":1123,"height":351,
"layer":[
{"data":{"name":"o3"},"mark":{"type":"line","strokeWidth":0.9,"opacity":0.55,"color":"#ff9fcf"},
"encoding":{
"x":{"field":"f","type":"quantitative","scale":{"domain":[256.936,258.863],"nice":false,"zero":false},"axis":{"values":[257,257.25,257.5,257.75,258,258.25,258.5,258.75],"format":".2f","title":null}},
"y":{"field":"t","type":"quantitative","scale":{"domain":[-0.1378,0.1177],"nice":false,"zero":false},"axis":{"values":[-0.1,-0.05,0,0.05,0.1],"format":".2f","title":"Tb (K)"}}}},
{"data":{"name":"fit3"},"mark":{"type":"line","strokeWidth":1,"color":"#333333"},
"encoding":{"x":{"field":"f","type":"quantitative"},"y":{"field":"t","type":"quantitative"}}}
]},
{"width":1123,"height":351,
"title":{"text":"(a)","orient":"bottom","font":"Liberation Serif","fontSize":18,"offset":30,"dx":-37},
"layer":[
{"data":{"name":"o4"},"mark":{"type":"line","strokeWidth":0.9,"opacity":0.55,"color":"#ff9fcf"},
"encoding":{
"x":{"field":"f","type":"quantitative","scale":{"domain":[258.7725,260.699],"nice":false,"zero":false},"axis":{"values":[259,259.25,259.5,259.75,260,260.25,260.5],"format":".2f","title":"Frequency (GHz)"}},
"y":{"field":"t","type":"quantitative","scale":{"domain":[-0.126,0.1468],"nice":false,"zero":false},"axis":{"values":[-0.1,-0.05,0,0.05,0.1],"format":".2f","title":"Tb (K)"}}}},
{"data":{"name":"fit4"},"mark":{"type":"line","strokeWidth":1,"color":"#333333"},
"encoding":{"x":{"field":"f","type":"quantitative"},"y":{"field":"t","type":"quantitative"}}}
]}
]
}
